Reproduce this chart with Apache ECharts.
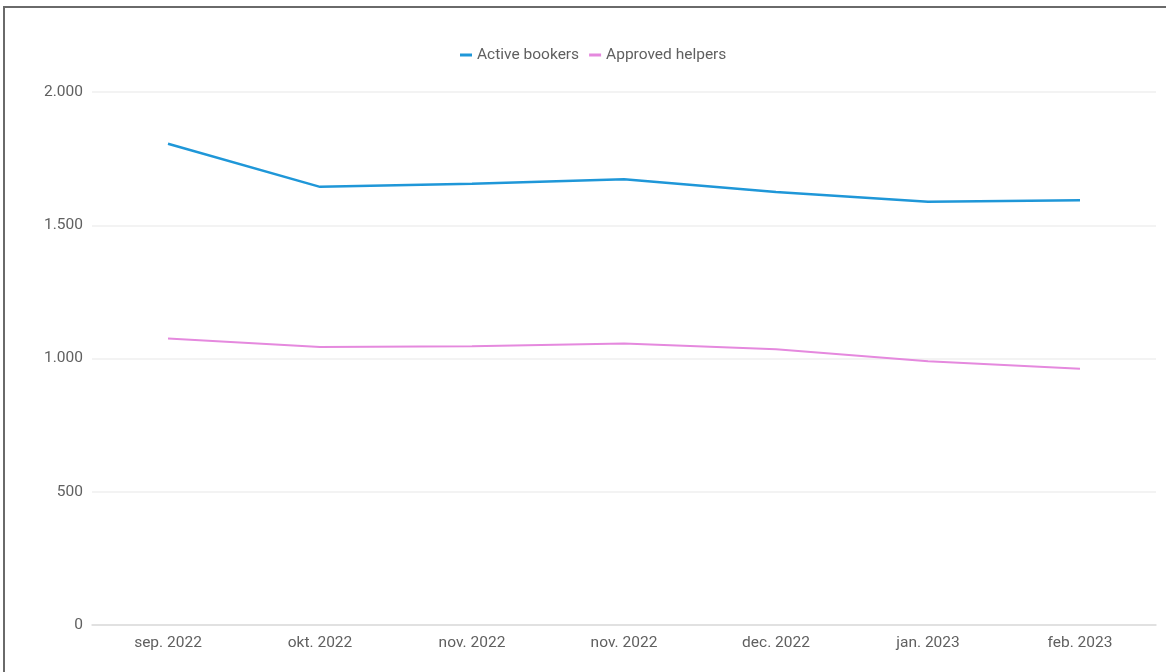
<!DOCTYPE html>
<html>
<head>
<meta charset="utf-8">
<script src="https://cdn.jsdelivr.net/npm/echarts@6/dist/echarts.min.js"></script>
<style>
html,body{margin:0;padding:0;background:#fff;}
#frame{position:absolute;left:3px;top:6px;width:1300px;height:800px;border-left:2px solid #6a6a6a;border-top:2px solid #6a6a6a;pointer-events:none;}
#chart{position:absolute;left:0;top:0;width:1166px;height:672px;}
</style>
</head>
<body>
<div id="chart"></div>
<div id="frame"></div>
<script>
const categories = ['sep. 2022','okt. 2022','nov. 2022','nov. 2022','dec. 2022','jan. 2023','feb. 2023'];
const activeBookers = [1806, 1644, 1656, 1673, 1625, 1588, 1594];
const approvedHelpers = [1075, 1043, 1046, 1056, 1035, 990, 962];
const yTicks = {min: 0, max: 2000, interval: 500};

function fmt(v){ return String(v).replace(/\B(?=(\d{3})+(?!\d))/g, '.'); }

const chart = echarts.init(document.getElementById('chart'));
chart.setOption({
  animation: false,
  textStyle: {fontFamily: 'Roboto, sans-serif'},
  legend: {
    top: 42,
    left: 455,
    icon: 'rect',
    itemWidth: 12,
    itemHeight: 3,
    itemGap: 10,
    textStyle: {color: '#606060', fontSize: 15.5, fontFamily: 'Roboto'},
    data: ['Active bookers', 'Approved helpers']
  },
  grid: {left: 92, right: 10, top: 92, bottom: 47},
  xAxis: {
    type: 'category',
    data: categories,
    boundaryGap: true,
    axisLine: {lineStyle: {color: '#dcdcdc', width: 1.5}},
    axisTick: {show: false},
    axisLabel: {color: '#606060', fontSize: 15.5, margin: 10}
  },
  yAxis: {
    type: 'value',
    min: yTicks.min, max: yTicks.max, interval: yTicks.interval,
    axisLine: {show: false},
    axisTick: {show: false},
    axisLabel: {color: '#606060', fontSize: 15.5, margin: 9, formatter: fmt},
    splitLine: {lineStyle: {color: '#efefef', width: 1.5}}
  },
  series: [
    {
      name: 'Active bookers', type: 'line', data: activeBookers,
      symbol: 'none', color: '#1f97d8',
      lineStyle: {width: 2.5, color: '#1f97d8'}
    },
    {
      name: 'Approved helpers', type: 'line', data: approvedHelpers,
      symbol: 'none', color: '#e589de',
      lineStyle: {width: 2, color: '#e589de'}
    }
  ]
});
</script>
</body>
</html>
